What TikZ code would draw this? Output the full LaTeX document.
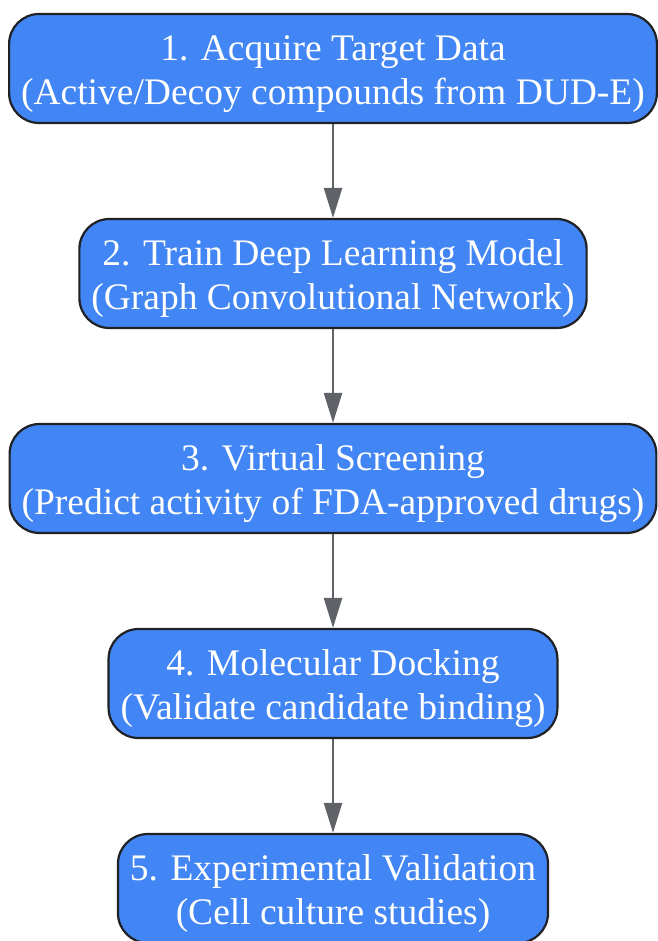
\documentclass[tikz,border=0pt]{standalone}
\usepackage{fontspec}
\setmainfont{Liberation Serif}
\usepackage{tikz}
\usepackage{xcolor}
\usetikzlibrary{positioning, arrows.meta}
\definecolor{stepblue}{RGB}{66, 133, 244}
\definecolor{stepborder}{RGB}{32, 33, 36}
\definecolor{arrowgray}{RGB}{95, 99, 104}
\newcommand{\topgap}{\rule{0pt}{36pt}}
\tikzset{
    stepbox/.style={rectangle, rounded corners=30pt, draw=stepborder, line width=2.2pt, fill=stepblue, text=white,
        align=center, minimum height=109pt, inner xsep=12pt, font=\fontsize{37.5}{44}\selectfont},
    flowarrow/.style={draw=arrowgray, line width=2.5pt, -{Triangle[length=30pt, width=18pt]}}
}
\begin{document}
\begin{tikzpicture}
    \useasboundingbox (0pt,0pt) rectangle (657pt,-941pt);
    \node[stepbox] (acquire) at (333pt,-68.5pt) {\topgap 1. Acquire Target Data\\(Active/Decoy compounds from DUD-E)};
    \node[stepbox, below=93.8pt of acquire] (train) {\topgap 2. Train Deep Learning Model\\(Graph Convolutional Network)};
    \node[stepbox, below=93.8pt of train] (screen) {\topgap 3. Virtual Screening\\(Predict activity of FDA-approved drugs)};
    \node[stepbox, below=93.8pt of screen] (docking) {\topgap 4. Molecular Docking\\(Validate candidate binding)};
    \node[stepbox, below=93.8pt of docking] (validate) {\topgap 5. Experimental Validation\\(Cell culture studies)};
    \draw[flowarrow] (acquire) -- (train);
    \draw[flowarrow] (train) -- (screen);
    \draw[flowarrow] (screen) -- (docking);
    \draw[flowarrow] (docking) -- (validate);
\end{tikzpicture}
\end{document}
